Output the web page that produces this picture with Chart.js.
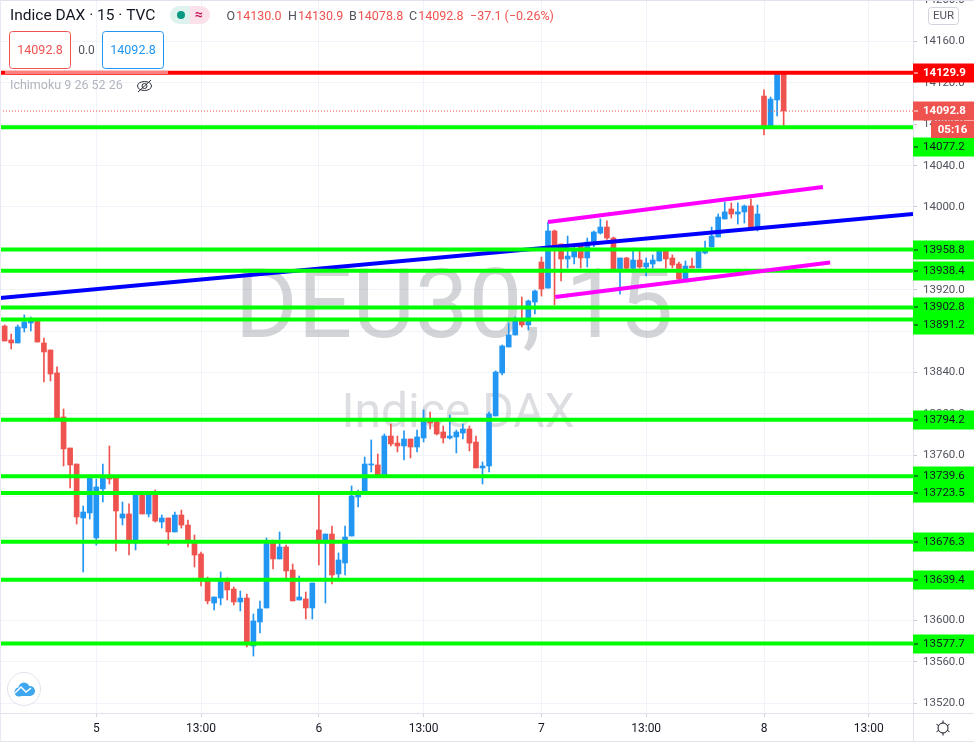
<!DOCTYPE html>
<html><head><meta charset="utf-8">
<script src="https://cdn.jsdelivr.net/npm/chart.js@4/dist/chart.umd.min.js"></script>
<style>html,body{margin:0;padding:0;background:#fff;overflow:hidden}#w{position:relative;width:974px;height:742px}</style>
</head><body><div id="w"><canvas id="c" width="974" height="742"></canvas></div>
<script>
const opens=[13884.9,13871.4,13868.5,13883,13887.8,13890.7,13868.5,13861.7,13839.5,13796.9,
13766.9,13751.4,13699.2,13704.1,13679.9,13727.3,13737.9,13737.9,13699.2,13703.1,
13675,13721.5,13703.1,13724.4,13695.3,13699.2,13685.7,13702.1,13692.4,13677,
13664.4,13640.2,13617,13621.8,13639.2,13630.5,13618,13621.8,13575.4,13598.6,
13612.2,13676,13659.6,13671.2,13648.9,13619.9,13620.9,13612.2,13687.6,13675,
13683.7,13645.1,13655.7,13681.8,13719.5,13722.4,13750.5,13750.5,13740.8,13778.5,
13771.7,13768.9,13775.6,13767.9,13776.6,13793,13792.1,13782.4,13776.6,13777.6,
13781.4,13785.3,13772.7,13747.6,13749.5,13797.9,13839.5,13864.6,13876.2,13890.7,
13885.9,13908.1,13946.8,13921.6,13976.8,13964.2,13949.7,13951.6,13963.2,13950.7,
13966.1,13974.8,13980.6,13970,13939,13950.7,13940.7,13948.7,13942,13944.9,
13947.8,13957.4,13950.7,13944.9,13930.4,13942.9,13941,13955.5,13961.3,13971,
13988.4,13998.1,13993.2,13995.2,14001,13978.4,14107.3,14078.3,14103.5,14130];
const closes=[13870.4,13868.5,13884,13888.8,13889.7,13869.4,13859.8,13838.5,13796,13766,
13750.5,13700.2,13705,13739.8,13729.2,13738.2,13736.9,13706,13703.1,13675,
13722.4,13703.1,13724.4,13696.3,13699.2,13685.7,13702.1,13692.4,13677,13663.4,
13638.3,13619,13622.8,13640.2,13629.6,13618,13621.8,13576.4,13599.6,13611.2,
13676,13659.6,13671.2,13648,13619,13622.8,13612.2,13636.3,13675,13683.7,
13644.1,13658.6,13680.8,13720.5,13723.4,13751.4,13751.4,13740.8,13778.5,13770.8,
13768.9,13775.6,13767.9,13777.6,13794,13791.1,13780.5,13776.6,13778.5,13782.4,
13785.3,13771.7,13747.6,13749.5,13799.8,13840.4,13865.6,13876.2,13889.7,13885.9,
13909.1,13918.7,13920.7,13976.8,13960,13949.7,13952.6,13959.4,13950.7,13966.1,
13975.8,13980.6,13970,13939,13950.7,13940.7,13948.7,13942,13945.8,13948.7,
13957.4,13949.7,13943.9,13930.4,13942.9,13941,13959.4,13957.4,13971.9,13990.3,
13995.2,13993.2,13995.2,14001,13979.4,13993.2,14077.7,14104.4,14128.6,14092.8];
const highs=[13885.9,13877.2,13885.9,13895.6,13893.6,13891.7,13873.3,13861.7,13845.3,13804.6,
13766.9,13751.4,13710.8,13740.8,13736.9,13751.4,13768.9,13739.2,13714.7,13712.8,
13724.4,13724.4,13725,13726.3,13702.1,13699.2,13705,13706.9,13697.3,13682.8,
13666.3,13642.1,13622.8,13647,13641.2,13632.5,13628.6,13625.7,13606.4,13618.9,
13679.9,13677.9,13685.7,13673.1,13654.7,13643.1,13627.6,13636.3,13722.4,13683.7,
13691.5,13665.4,13691.5,13730.2,13726.3,13758.2,13774.7,13761.1,13780.5,13790.1,
13778.5,13783.4,13775.6,13784.3,13803.7,13801.7,13793,13788.2,13798.8,13784.3,
13790.1,13788.2,13778.5,13753.4,13801.7,13841.4,13866.5,13887.8,13893.6,13912.9,
13910,13919.7,13951.6,13985.5,13977.7,13964.2,13971.9,13964.2,13964.8,13970,
13976.8,13988.4,13986.5,13971,13950.7,13951.3,13957.4,13957.4,13950.7,13953.6,
13960,13960,13953.6,13946.8,13947.8,13950.7,13959.4,13967.1,13980.6,13993.2,
14004.8,14003.9,14003.9,14001.9,14007.7,14001.9,14113.2,14106.4,14130.9,14130.9];
const lows=[13870.4,13862.7,13868.5,13879.1,13880.1,13869.4,13830.7,13831.7,13796,13749.5,
13728.2,13693.4,13647,13698.2,13673.1,13714.7,13732.1,13667.3,13692.4,13663.4,
13668.3,13703.1,13700.2,13695.3,13689.5,13673.1,13685.7,13689.5,13671.2,13651.8,
13633.4,13616.1,13610.2,13615.1,13619.9,13615.1,13609.3,13574.4,13565.7,13588,
13612.2,13649.9,13659.6,13639.2,13619,13619.9,13601.5,13601.5,13653.8,13617,
13635.4,13639.2,13644.1,13681.8,13709.8,13722.4,13743.7,13740.8,13740.8,13768.9,
13763.1,13755.3,13757.3,13763.1,13772.7,13785.3,13779.5,13771.7,13775.6,13762.1,
13775.6,13764,13747.6,13732.1,13743.7,13797.9,13837.5,13864.6,13876.2,13883.9,
13881,13896.5,13913.9,13921.6,13905.2,13928.4,13941,13944.9,13941,13942,
13961.6,13973.9,13968.7,13939,13915.8,13939,13940.7,13941,13933.3,13941,
13947.8,13941,13941,13929.4,13929.4,13941,13941,13954.5,13961.3,13971,
13988.4,13989.3,13983.5,13984.5,13979.4,13976.8,14069.6,14077.7,14088,14078.8];

const xTickIndex=[14,30,48,64,82,98,116,132];
const xTickLabels=['5','13:00','6','13:00','7','13:00','8','13:00'];
const yTicks=[14200,14160,14120,14080,14040,14000,13960,13920,13880,13840,13800,13760,13720,13680,13640,13600,13560,13520];
const greenLevels=[14077.2,13958.8,13938.4,13902.8,13891.2,13794.2,13739.6,13723.5,13676.3,13639.4,13577.7];
const redLevel=14129.9, lastPrice=14092.8;
const blueTrend=[[-0.71,13912],[138.76,13993.2]];
const magentaUpper=[[83,13985.5],[125,14019.3]];
const magentaLower=[[84.1,13913],[126.1,13946.3]];

const X_MIN=-0.71,X_MAX=138.76,Y_MIN=13510.6,Y_MAX=14200.2;
const RED='#ef5350',BLUE='#2196f3',GREEN='#00ff00';
const FONT='Roboto, sans-serif';
const idx=opens.map((_,i)=>i);
const colours=idx.map(i=>closes[i]<opens[i]?RED:BLUE);
const seg=(pts,color,w,extra)=>Object.assign({type:'line',data:pts.map(p=>({x:p[0],y:p[1]})),borderColor:color,borderWidth:w,pointRadius:0,fill:false,tension:0,order:1,borderCapStyle:'butt'},extra||{});

const datasets=[];
greenLevels.forEach(l=>datasets.push(seg([[X_MIN,l],[X_MAX,l]],GREEN,4)));
datasets.push(seg([[X_MIN,redLevel],[X_MAX,redLevel]],'#ff0000',4));
datasets.push(seg(blueTrend,'#0000ff',4,{order:2}));
datasets.push(seg(magentaUpper,'#ff00ff',4,{order:0}));
datasets.push(seg(magentaLower,'#ff00ff',4,{order:0}));
datasets.push(seg([[X_MIN,lastPrice],[X_MAX,lastPrice]],RED,1,{borderDash:[1,2],order:3}));
datasets.push({type:'bar',data:idx.map(i=>({x:i,y:[opens[i],closes[i]]})),backgroundColor:colours,barThickness:5,grouped:false,order:4,borderWidth:0,borderSkipped:false,minBarLength:1});
datasets.push({type:'bar',data:idx.map(i=>({x:i,y:[lows[i],highs[i]]})),backgroundColor:colours,barThickness:1,grouped:false,order:5,borderWidth:0});

function box(ctx,x,y,w,h,r,fill,stroke){ctx.beginPath();ctx.roundRect(x,y,w,h,r);if(fill){ctx.fillStyle=fill;ctx.fill();}if(stroke){ctx.strokeStyle=stroke;ctx.lineWidth=1;ctx.stroke();}}
function text(ctx,s,x,y,font,color,align){ctx.font=font;ctx.fillStyle=color;ctx.textAlign=align||'left';ctx.textBaseline='middle';ctx.fillText(s,x,y);}

const watermark={id:'wm',beforeDatasetsDraw(ch){const c=ch.ctx;c.save();
 text(c,'DEU30, 15',454,313,'96px '+FONT,'rgba(120,123,134,0.33)','center');
 text(c,'Indice DAX',458,415,'48px '+FONT,'rgba(120,123,134,0.25)','center');
 c.restore();}};

const overlay={id:'ov',afterDraw(ch){const c=ch.ctx,ys=ch.scales.y;c.save();
 c.fillStyle='#e0e3eb';c.fillRect(0,713,974,1);c.fillRect(913,0,1,742);c.fillRect(0,741,974,1);c.fillRect(0,0,974,1);
 c.fillStyle='#e8e9f3';c.fillRect(0,0,1,742);
 const axisBox=(val,label,bg,fg,dy,weight)=>{const y=Math.round(ys.getPixelForValue(val)+(dy||0));
  c.fillStyle=bg;c.fillRect(913,y-9.5,61,19);c.fillStyle=fg;c.fillRect(914,y-0.5,4,1);
  text(c,label,923,y+0.5,(weight||'')+' 11.5px '+FONT,fg,'left');};
 const nudges={14077.2:20,13891.2:5.5};
 greenLevels.forEach(l=>axisBox(l,l.toFixed(1),GREEN,'#131722',nudges[l]||0));
 axisBox(lastPrice,lastPrice.toFixed(1),RED,'#ffffff',0,'bold');
 axisBox(redLevel,redLevel.toFixed(1),'#ff0000','#ffffff',0,'bold');
 c.fillStyle=RED;c.fillRect(931,121,43,17);text(c,'05:16',952.5,130,'bold 11.5px '+FONT,'#ffffff','center');
 box(c,928.5,7.5,30,17,3,'#ffffff','#d1d4dc');text(c,'EUR',943.5,16,'11.5px '+FONT,'#50535e','center');
 c.fillStyle='rgba(255,255,255,0.5)';c.fillRect(5,71,163,3);
 text(c,'Indice DAX · 15 · TVC',10,16,'15.5px '+FONT,'#131722');
 c.beginPath();c.roundRect(170,6,20,18,[9,0,0,9]);c.fillStyle='#dff2ee';c.fill();
 c.beginPath();c.roundRect(190,6,20,18,[0,9,9,0]);c.fillStyle='#fce1ea';c.fill();
 c.beginPath();c.arc(181,15,4,0,7);c.fillStyle='#089981';c.fill();
 text(c,'≈',199,15,'bold 14px '+FONT,'#c2185b','center');
 const vals=[['O','14130.0',226.5],['H','14130.9',288],['B','14078.8',349],['C','14092.8',409]];
 vals.forEach(v=>{text(c,v[0],v[2],16.5,'12.5px '+FONT,'#50535e');const w=c.measureText(v[0]).width;text(c,v[1],v[2]+w+1,16.5,'12.5px '+FONT,RED);});
 text(c,'−37.1 (−0.26%)',470,16.5,'12.5px '+FONT,RED);
 box(c,9.5,31.5,61,37,3,'rgba(255,255,255,0.9)',RED);text(c,'14092.8',40,50.5,'12.5px '+FONT,RED,'center');
 text(c,'0.0',86.5,50.5,'12px '+FONT,'#50535e','center');
 box(c,102.5,31.5,61,37,3,'rgba(255,255,255,0.9)',BLUE);text(c,'14092.8',133,50.5,'12.5px '+FONT,BLUE,'center');
 text(c,'Ichimoku 9 26 52 26',10,86,'12.5px '+FONT,'#b2b5be');
 c.strokeStyle='#2a2e39';c.lineWidth=1;c.beginPath();c.ellipse(144.5,86,7,4.5,0,0,7);c.stroke();
 c.beginPath();c.arc(144.5,86,2.5,0,7);c.stroke();c.beginPath();c.moveTo(138,92);c.lineTo(151,80);c.stroke();
 // logo
 c.beginPath();c.arc(24,689,16.5,0,7);c.fillStyle='#fff';c.fill();c.strokeStyle='#e0e3eb';c.lineWidth=1;c.stroke();
 c.fillStyle='#3fa7f0';
 c.beginPath();c.arc(19,692,4.5,0,7);c.fill();c.beginPath();c.arc(24,688,5.5,0,7);c.fill();c.beginPath();c.arc(30,691,5,0,7);c.fill();c.fillRect(18,691,13,5);
 c.beginPath();c.moveTo(15,693);c.lineTo(21,687);c.lineTo(26,692);c.lineTo(31,688);c.strokeStyle='#fff';c.lineWidth=1.5;c.stroke();
 c.strokeStyle='#131722';c.lineWidth=1;c.beginPath();c.arc(943,728,5,0,7);c.stroke();
 for(let a=0;a<6;a++){const t=a*Math.PI/3+Math.PI/2;c.beginPath();c.moveTo(943+5*Math.cos(t),728+5*Math.sin(t));c.lineTo(943+7.5*Math.cos(t),728+7.5*Math.sin(t));c.stroke();}
 c.restore();}};

new Chart(document.getElementById('c'),{
 type:'bar',
 data:{datasets},
 plugins:[watermark,overlay],
 options:{responsive:false,animation:false,devicePixelRatio:1,
  layout:{padding:0},
  plugins:{legend:{display:false},tooltip:{enabled:false}},
  scales:{
   x:{type:'linear',min:X_MIN,max:X_MAX,offset:false,
    afterBuildTicks:s=>{s.ticks=xTickIndex.map(v=>({value:v}));},
    afterFit:s=>{s.height=29;s.paddingLeft=0;s.paddingRight=0;},
    grid:{offset:false,color:'#f0f3fa',lineWidth:1,drawTicks:true,tickLength:4,tickColor:'#d1d4dc'},border:{display:false},
    ticks:{autoSkip:false,maxRotation:0,padding:5,color:'#131722',font:{family:FONT,size:12},
     callback:(v)=>{const k=xTickIndex.indexOf(v);return k>=0?xTickLabels[k]:'';}}},
   y:{type:'linear',position:'right',min:Y_MIN,max:Y_MAX,
    afterBuildTicks:s=>{s.ticks=yTicks.map(v=>({value:v}));},
    afterFit:s=>{s.width=61;s.paddingTop=0;s.paddingBottom=0;},
    grid:{color:'#f0f3fa',lineWidth:1,drawTicks:true,tickLength:4,tickColor:'#c4c7cf'},border:{display:false},
    ticks:{autoSkip:false,padding:6,color:'#50535e',font:{family:FONT,size:11.5},callback:v=>v.toFixed(1)}}
  }}});
</script></body></html>
